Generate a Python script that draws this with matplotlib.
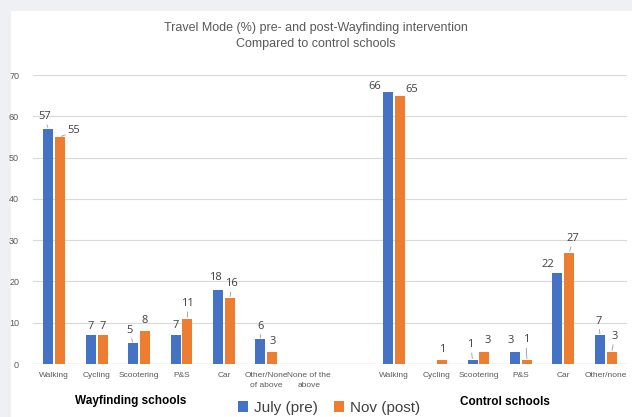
import numpy as np
import matplotlib.pyplot as plt
from matplotlib.patches import Rectangle

plt.rcParams['font.family'] = ['Liberation Sans', 'DejaVu Sans']

# Данные
categories = ['Walking', 'Cycling', 'Scootering', 'P&S', 'Car', 'Other/None\nof above',
              'None of the\nabove', '', 'Walking', 'Cycling', 'Scootering', 'P&S', 'Car',
              'Other/none']
july = [57, 7, 5, 7, 18, 6, 0, 0, 66, 0, 1, 3, 22, 7]
nov = [55, 7, 8, 11, 16, 3, 0, 0, 65, 1, 3, 1, 27, 3]
series_names = ['July (pre)', 'Nov (post)']
group_names = ['Wayfinding schools', 'Control schools']

# смещения подписей (пиксели) и наличие выносной линии
july_off = {0: (-4, 12, True), 1: (0, 9, False), 2: (-4, 13, True), 3: (0, 10, False),
            4: (-3, 12, False), 5: (0, 13, True), 8: (-13, 5, False),
            10: (-2, 15, True), 11: (-4, 11, False), 12: (-10, 9, False), 13: (-1, 14, True)}
nov_off = {0: (14, 6, True), 1: (0, 9, False), 2: (0, 10, False), 3: (0, 15, True),
           4: (2, 14, True), 5: (0, 10, False), 8: (12, 6, False), 9: (0, 10, False),
           10: (3, 11, False), 11: (-1, 20, True), 12: (4, 14, True), 13: (3, 15, True)}

blue = '#4472C4'
orange = '#ED7D31'

fig = plt.figure(figsize=(6.32, 4.17), dpi=100, facecolor='#eef0f4')
fig.patches.append(Rectangle((11 / 632, 0), 1, 1 - 11 / 417, transform=fig.transFigure,
                             facecolor='white', edgecolor='none', zorder=-10))
ax = fig.add_axes([33 / 632, 53 / 417, 594 / 632, 289 / 417])
ax.set_facecolor('white')

x = np.arange(len(categories))
w = 0.235
b1 = ax.bar(x - 0.14, july, w, color=blue, zorder=3)
b2 = ax.bar(x + 0.14, nov, w, color=orange, zorder=3)


def label(bars, vals, offs):
    for i, (bar, v) in enumerate(zip(bars, vals)):
        if i not in offs:
            continue
        dx, dy, lead = offs[i]
        xc = bar.get_x() + bar.get_width() / 2
        props = dict(arrowstyle='-', color='#a6a6a6', lw=0.7, shrinkA=0, shrinkB=1) if lead else None
        ax.annotate(str(v), (xc, v), xytext=(dx, dy), textcoords='offset pixels',
                    ha='center', va='center', fontsize=8, color='#404040',
                    family='Open Sans', arrowprops=props, zorder=4)


label(b1, july, july_off)
label(b2, nov, nov_off)

ax.set_xlim(-0.5, len(categories) - 0.5)
ax.set_ylim(0, 70)
ax.set_yticks(range(0, 71, 10))
ax.yaxis.grid(True, color='#d9d9d9', lw=0.8, zorder=0)
ax.axhline(0, color='#d9d9d9', lw=1, zorder=2)
for s in ax.spines.values():
    s.set_visible(False)
ax.tick_params(axis='y', length=0, pad=10, labelsize=6.5, labelcolor='#595959')
ax.set_xticks(x)
ax.set_xticklabels(categories, fontsize=6, color='#595959', linespacing=1.5)
ax.tick_params(axis='x', length=0, pad=6)

fig.text(0.5, 1 - 28 / 417, 'Travel Mode (%) pre- and post-Wayfinding intervention',
         ha='center', va='center', fontsize=9, color='#595959')
fig.text(0.5, 1 - 44 / 417, 'Compared to control schools',
         ha='center', va='center', fontsize=9, color='#595959')

fig.text(131 / 632, 1 - 401 / 417, group_names[0], ha='center', va='center',
         fontsize=8.5, fontweight='bold', color='black')
fig.text(505 / 632, 1 - 402 / 417, group_names[1], ha='center', va='center',
         fontsize=8.5, fontweight='bold', color='black')

fig.legend([b1, b2], series_names, loc='center', bbox_to_anchor=(329 / 632, 1 - 408 / 417),
           ncol=2, frameon=False, fontsize=11, handlelength=0.7, handleheight=0.7,
           handletextpad=0.4, columnspacing=1.0, labelcolor='#404040',
           borderpad=0, borderaxespad=0)

fig.savefig('out.png', dpi=100, facecolor=fig.get_facecolor())
